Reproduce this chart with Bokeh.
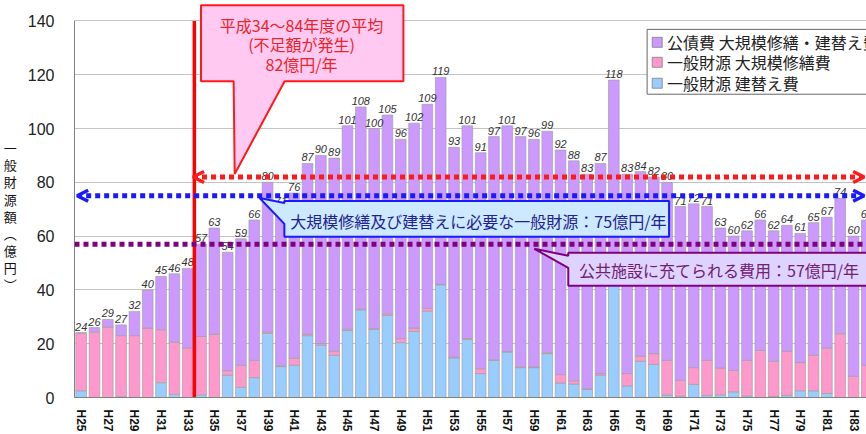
from bokeh.plotting import figure
from bokeh.models import (ColumnDataSource, Range1d, FixedTicker, Arrow, OpenHead, Span)
from bokeh.core.properties import value
from bokeh.embed import file_html
from bokeh.resources import INLINE

# 平成25年度 … 平成84年度
fiscal_years = list(range(25, 85))

# 年度ごとの合計額（億円）
total = [24, 26, 29, 27, 32, 40, 45, 46, 48, 57,
         63, 54, 59, 66, 80, 71, 76, 87, 90, 89,
         101, 108, 100, 105, 96, 102, 109, 119, 93, 101,
         91, 97, 101, 97, 96, 99, 92, 88, 83, 87,
         118, 83, 84, 82, 80, 71, 72, 71, 63, 60,
         62, 66, 62, 64, 61, 65, 67, 74, 60, 66]

# 一般財源 建替え費
rebuild_general = [2.5, 0, 0, 0.3, 0, 0, 5.5, 1.2, 0, 1,
                   0, 8.3, 3.8, 7.4, 23.8, 11.5, 12, 23, 19.5, 15.7,
                   24.9, 32.6, 25.3, 30.5, 20.4, 24.6, 32.1, 41.9, 14.7, 21.6,
                   8.9, 13.8, 16.9, 11.1, 11.1, 16.3, 5.4, 5, 3, 8.3,
                   42, 4.3, 13.5, 12.3, 0.9, 0.5, 4.9, 0.8, 1, 2.1,
                   0.6, 0, 0.4, 0.8, 2.5, 2.5, 1.5, 0, 0, 0]

# 一般財源 大規模修繕費
repair_general = [21.5, 24.3, 26.2, 22.7, 23, 25.8, 19.7, 19.4, 18.4, 21.7,
                  23.5, 1.7, 8.2, 6.4, 0.5, 0.3, 2.6, 0.5, 0.6, 1.5,
                  0.5, 0.3, 0.3, 0.6, 1.5, 1.2, 1.1, 0.2, 0.3, 0.3,
                  1.8, 0.2, 0.2, 0.3, 0.2, 0.3, 3.1, 1.2, 0.2, 0.6,
                  0, 4.6, 1.9, 4, 12.9, 5.9, 6.2, 13, 10, 8,
                  13.2, 17.5, 13.1, 16.4, 10.5, 13.2, 16.9, 23.7, 7.9, 12]

# 公債費 大規模修繕・建替え費 = 合計 − 一般財源分
bond = [round(t - a - b, 1) for t, a, b in zip(total, rebuild_general, repair_general)]

avg_required = 82      # 平成34～84年度の平均
general_required = 75  # 大規模修繕及び建替えに必要な一般財源
available = 57         # 公共施設に充てられる費用

series_names = ["公債費 大規模修繕・建替え費", "一般財源 大規模修繕費", "一般財源 建替え費"]
y_title = "一般財源額︵億円︶"
y_ticks = [0, 20, 40, 60, 80, 100, 120, 140]
x_ticks = fiscal_years[::2]
x_tick_labels = {y: f"H{y}" for y in x_ticks}

PURPLE, PINK, BLUE = "#cc99ff", "#ff99cc", "#99ccff"
JP = "Noto Sans CJK JP"
LAT = "Liberation Sans"

src = ColumnDataSource(dict(
    x=fiscal_years, rebuild=rebuild_general, repair=repair_general, bond=bond,
    total=total, label=[str(t) for t in total],
))

p = figure(width=866, height=434, output_backend="svg", toolbar_location=None,
           x_range=Range1d(24.5, 83.975), y_range=Range1d(0, 147.6),
           min_border_left=73, min_border_right=0, min_border_top=0, min_border_bottom=36)
p.outline_line_color = None
p.background_fill_color = "white"

# axes
p.yaxis.ticker = FixedTicker(ticks=y_ticks)
p.yaxis.bounds = (0, 140)
p.yaxis.axis_line_color = "#808080"
p.yaxis.major_tick_line_color = None
p.yaxis.minor_tick_line_color = None
p.yaxis.major_tick_out = 0
p.yaxis.minor_tick_out = 0
p.yaxis.major_label_standoff = 20
p.yaxis.major_label_text_font = LAT
p.yaxis.major_label_text_font_size = "16px"
p.yaxis.major_label_text_color = "#222222"
# stacked vertical title, one character per line (two blank lines push it down a little)
p.yaxis.axis_label = "\n\n" + "\n".join(y_title)
p.yaxis.axis_label_orientation = "horizontal"
p.yaxis.axis_label_text_font = JP
p.yaxis.axis_label_text_font_style = "normal"
p.yaxis.axis_label_text_font_size = "13px"
p.yaxis.axis_label_text_line_height = 0.9
p.yaxis.axis_label_text_color = "#111111"
p.yaxis.axis_label_standoff = 8

p.xaxis.ticker = FixedTicker(ticks=x_ticks)
p.xaxis.major_label_overrides = x_tick_labels
p.xaxis.major_label_orientation = "vertical"
p.xaxis.axis_line_color = "#808080"
p.xaxis.major_tick_line_color = None
p.xaxis.minor_tick_line_color = None
p.xaxis.major_tick_out = 0
p.xaxis.minor_tick_out = 0
p.xaxis.major_label_standoff = 12
p.xaxis.major_label_text_font = LAT
p.xaxis.major_label_text_font_style = "bold"
p.xaxis.major_label_text_font_size = "12px"
p.xaxis.major_label_text_color = "#111111"

p.xgrid.visible = False
p.ygrid.grid_line_color = "#c4c4c4"

# stacked bars
p.vbar_stack(["rebuild", "repair", "bond"], x="x", width=0.8, source=src,
             fill_color=[BLUE, PINK, PURPLE], line_color="#a0a0a0", line_width=0.7)

p.text(x="x", y="total", text="label", source=src, text_font=value(LAT),
       text_font_style="italic", text_font_size="11px", text_align="center",
       text_baseline="alphabetic", y_offset=-6, text_color="#333333")

# boundary between H33 and H34
p.segment(x0=[33.5], y0=[0], x1=[33.5], y1=[140], line_color="#ff0000", line_width=3.5)

# reference levels
p.add_layout(Span(location=available, dimension="width", line_color="#800080",
                  line_width=5, line_dash="5 4"))
p.add_layout(Arrow(x_start=33.4, y_start=avg_required, x_end=83.8, y_end=avg_required,
                   line_color="#ff1a1a", line_width=5, line_dash="5 4",
                   start=OpenHead(size=11, line_color="#ff1a1a", line_width=3.5),
                   end=OpenHead(size=11, line_color="#ff1a1a", line_width=3.5)))
p.add_layout(Arrow(x_start=24.7, y_start=general_required, x_end=83.8, y_end=general_required,
                   line_color="#1a1aff", line_width=5, line_dash="5 4",
                   start=OpenHead(size=11, line_color="#1a1aff", line_width=3.5),
                   end=OpenHead(size=11, line_color="#1a1aff", line_width=3.5)))

# callouts
red_box = ([34.0, 49.2, 49.2, 40.28, 36.53, 36.45, 34.0],
           [145.8, 145.8, 117.6, 117.6, 83.1, 117.6, 117.6])
blue_box = ([40.26, 69.15, 69.15, 40.26, 40.26, 38.4, 40.26],
            [73.07, 73.07, 59.72, 59.72, 64.54, 74.18, 72.33])
purple_box = ([61.58, 84.3, 84.3, 61.58, 61.58, 59.03, 61.58],
              [53.78, 53.78, 41.54, 41.54, 48.22, 55.3, 52.67])
p.patches(xs=[red_box[0], blue_box[0], purple_box[0]],
          ys=[red_box[1], blue_box[1], purple_box[1]],
          fill_color=["#ffc9f2", "#cce9ff", "#ded2ff"],
          line_color=["#ff1a1a", "#1a1aff", "#800080"], line_width=2)

p.text(x=[41.55, 41.55, 41.55], y=[138.4, 131.3, 124.1],
       text=["平成34～84年度の平均", "(不足額が発生)", f"{avg_required}億円/年"],
       text_font=value(JP), text_font_size="16px", text_align="center",
       text_baseline="middle", text_color="#e8262a")
p.text(x=[54.83], y=[65.65], text=[f"大規模修繕及び建替えに必要な一般財源：{general_required}億円/年"],
       text_font=value(JP), text_font_size="16px", text_align="center",
       text_baseline="middle", text_color="#23238e")
p.text(x=[62.39], y=[47.48], text=[f"公共施設に充てられる費用：{available}億円/年"],
       text_font=value(JP), text_font_size="16px", text_align="left",
       text_baseline="middle", text_color="#702070")

# legend box: framed key with one swatch per series
legend_rows = [132.05, 124.63, 116.84]
p.quad(left=[67.5], right=[84.5], top=[136.87], bottom=[112.76],
       fill_color="white", line_color="#666666", line_width=1)
p.scatter(x=[68.26] * 3, y=legend_rows, marker="square", size=10,
          fill_color=[PURPLE, PINK, BLUE], line_color="#808080", line_width=0.8)
p.text(x=[69.0] * 3, y=legend_rows, text=series_names, text_font=value(JP),
       text_font_size="16px", text_align="left", text_baseline="middle",
       text_color="#222222")

open("out.html", "w").write(file_html(p, INLINE))
